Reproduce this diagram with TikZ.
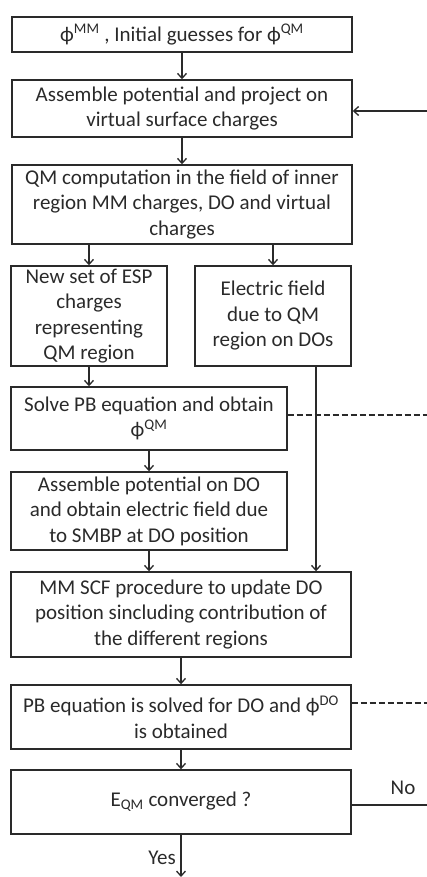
\documentclass[tikz,border=0pt]{standalone}
\usepackage{fontspec}
\setmainfont{Carlito}
\usetikzlibrary{arrows.meta}
\definecolor{ink}{HTML}{2A2A2A}
\begin{document}
\begin{tikzpicture}[x=1pt,y=-1pt,line width=1.4pt,draw=ink,
  box/.style={draw=ink,inner sep=0pt,align=center,text=ink,font=\fontsize{21}{25.5}\selectfont},
  arr/.style={-{Straight Barb[length=5pt,width=9pt,line width=1.3pt]}},
  lbl/.style={inner sep=0pt,text=ink,font=\fontsize{21}{25.5}\selectfont},
  dsh/.style={dash pattern=on 6pt off 3pt}]
\useasboundingbox (0,0) rectangle (427,877);
\node[box,minimum width=340pt,minimum height=35pt] (b1) at (182,34.5) {ϕ\textsuperscript{MM} , Initial guesses for ϕ\textsuperscript{QM}};
\node[box,minimum width=340pt,minimum height=57pt] (b2) at (182,108.5) {Assemble potential and project on\\virtual surface charges};
\node[box,minimum width=340pt,minimum height=79pt] (b3) at (182,204.5) {QM computation in the field of inner\\region MM charges, DO and virtual\\charges};
\node[box,minimum width=156pt,minimum height=100pt] (b4) at (89,316) {New set of ESP\\charges\\representing\\QM region};
\node[box,minimum width=156pt,minimum height=100pt] (b5) at (273,316) {Electric field\\due to QM\\region on DOs};
\node[box,minimum width=276pt,minimum height=63pt] (b6) at (149,418.5) {Solve PB equation and obtain\\ϕ\textsuperscript{QM}};
\node[box,minimum width=276pt,minimum height=78pt] (b7) at (149,511) {Assemble potential on DO\\and obtain electric field due\\to SMBP at DO position};
\node[box,minimum width=340pt,minimum height=85pt] (b8) at (181,614.5) {MM SCF procedure to update DO\\position sincluding contribution of\\the different regions};
\node[box,minimum width=340pt,minimum height=64pt] (b9) at (181,717) {PB equation is solved for DO and ϕ\textsuperscript{DO}\\is obtained};
\node[box,minimum width=340pt,minimum height=64pt] (b10) at (181,802) {E\textsubscript{QM} converged ?};
\coordinate (rx) at (316,0);
\coordinate (fb) at (427,111);
\coordinate (d1) at (427,415);
\coordinate (d2) at (427,703);
\coordinate (nl) at (427,805);
\coordinate (yesend) at (181,877);
\draw[arr] (b1.south) -- (b2.north);
\draw[arr] (b2.south) -- (b3.north);
\draw[arr] (b3.south -| b4.north) -- (b4.north);
\draw[arr] (b3.south -| b5.north) -- (b5.north);
\draw[arr] (b4.south) -- (b4.south |- b6.north);
\draw[arr] (b6.south) -- (b7.north);
\draw[arr] (b7.south) -- (b7.south |- b8.north);
\draw[arr] (b5.south -| rx) -- (b8.north -| rx);
\draw[arr] (b8.south) -- (b9.north);
\draw[arr] (b9.south) -- (b10.north);
\draw[arr] (b10.south) -- (yesend);
\node[lbl] (yes) at (162,858) {Yes};
\draw[arr] (fb) -- (fb -| b2.east);
\draw[dsh] (d1 -| b6.east) -- (d1);
\draw[dsh] (d2 -| b9.east) -- (d2);
\draw (nl -| b10.east) -- (nl);
\node[lbl] (no) at (403,788) {No};
\end{tikzpicture}
\end{document}
